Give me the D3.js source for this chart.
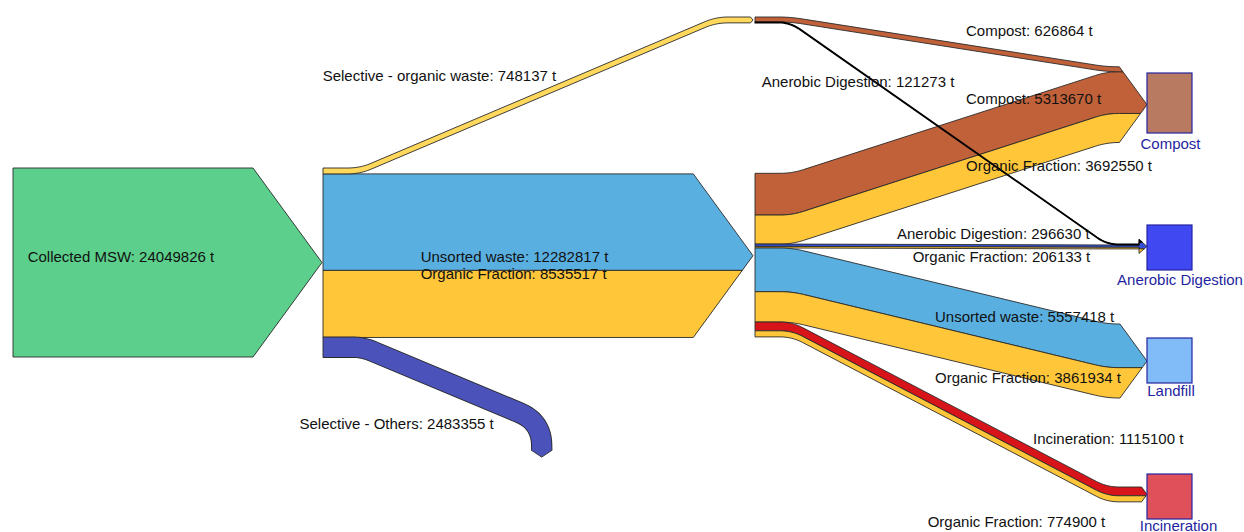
<!DOCTYPE html>
<html><head><meta charset="utf-8">
<script src="https://cdn.jsdelivr.net/npm/d3@7"></script>
<style>
body{margin:0;background:#fff}
svg{display:block}
text{font-family:"Liberation Sans",Arial,sans-serif;font-size:15px}
</style>
</head><body>
<svg id="chart" width="1244" height="532"></svg>
<script>
// ---------------- DATA ----------------
const collectedLabel = "Collected MSW";
const collectedTotal = 24049826;

const splitLabels = ["Selective - organic waste", "Unsorted waste", "Organic Fraction", "Selective - Others"];
const splitValues = [748137, 12282817, 8535517, 2483355];

const targetNames = ["Compost", "Anerobic Digestion", "Landfill", "Incineration"];

const mixedLabels  = ["Compost", "Organic Fraction", "Anerobic Digestion", "Organic Fraction", "Unsorted waste", "Organic Fraction", "Incineration", "Organic Fraction"];
const mixedValues  = [5313670, 3692550, 296630, 206133, 5557418, 3861934, 1115100, 774900];
const mixedTargets = ["Compost", "Compost", "Anerobic Digestion", "Anerobic Digestion", "Landfill", "Landfill", "Incineration", "Incineration"];
const mixedKinds   = ["compost", "organic", "digestion", "organic", "unsorted", "organic", "incineration", "organic"];

const selOrgLabels  = ["Compost", "Anerobic Digestion"];
const selOrgValues  = [626864, 121273];
const selOrgTargets = ["Compost", "Anerobic Digestion"];
const selOrgKinds   = ["compost", "digestionLine"];

// ---------------- STYLE / LAYOUT ----------------
const colors = {
  collected: "#5bcf8b", unsorted: "#5aafe1", organic: "#ffc63a", selOrganic: "#ffd85c",
  selOthers: "#4b53ba", compost: "#c1613a", digestion: "#3550d8", digestionLine: "#000000",
  incineration: "#d8141b"
};
const splitKinds = ["selOrganic", "unsorted", "organic", "selOthers"];
const nodeFill = {"Compost": "#b97a62", "Anerobic Digestion": "#4048f2", "Landfill": "#82bcf8", "Incineration": "#e0505a"};
const nodeBox = {"Compost": [73, 60], "Anerobic Digestion": [225, 45], "Landfill": [338, 45], "Incineration": [474, 45]};
const targetTop = {"Compost": 66.8, "Anerobic Digestion": 244, "Landfill": 324, "Incineration": 487};
const nodeLabelPos = {"Compost": [1170.5, 148.5], "Anerobic Digestion": [1180, 284.5], "Landfill": [1171, 396], "Incineration": [1178.5, 530.5]};

const X0 = 13, X1 = 323, X2 = 755, XT = 1147, NODE_W = 45;
const Y_N1 = 168, Y_N2 = 173.3, Y_N3 = 17;

const mixedLabelPos = [[966,104],[966,171],[897,239],[912.7,262],[935,322],[935,383],[1033,444],[927.7,527]];
const selOrgLabelPos = [[966,35.5],[761.7,87]];

// ---------------- HELPERS ----------------
const svg = d3.select("#chart");
const k = d3.scaleLinear().domain([0, collectedTotal]).range([0, 189]);
const line = d3.line();
const OUT = "#2a2a2a";

function roundPts(P, dmax) {
  const out = [P[0]];
  for (let i = 1; i < P.length - 1; i++) {
    const a = P[i-1], b = P[i], c = P[i+1];
    const l1 = Math.hypot(b[0]-a[0], b[1]-a[1]), l2 = Math.hypot(c[0]-b[0], c[1]-b[1]);
    if (l1 < 1e-6 || l2 < 1e-6) { out.push(b); continue; }
    const av1 = (i-1 === 0) ? l1 : l1/2, av2 = (i+1 === P.length-1) ? l2 : l2/2;
    const dm = Array.isArray(dmax) ? dmax[i-1] : dmax;
    const d = Math.min(dm, av1, av2);
    const s = [b[0]-(b[0]-a[0])/l1*d, b[1]-(b[1]-a[1])/l1*d];
    const e = [b[0]+(c[0]-b[0])/l2*d, b[1]+(c[1]-b[1])/l2*d];
    for (let j = 0; j <= 12; j++) {
      const t = j/12, u = 1-t;
      out.push([u*u*s[0]+2*u*t*b[0]+t*t*e[0], u*u*s[1]+2*u*t*b[1]+t*t*e[1]]);
    }
  }
  out.push(P[P.length-1]);
  return out;
}

function makeArrow(xt, T, H, minHalf) {
  let C = T + H/2, h = H/2, L = 0.73*h, scale = 1;
  if (minHalf && h < minHalf) { scale = minHalf / h; h = minHalf; L = 8; }
  return {xt, xa: xt - L, C, h, L, scale,
    xe(y) { return y <= C ? this.xa + L*(y-(C-h))/h : this.xa + L*((C+h)-y)/h; },
    map(y) { return C + (y - C)*scale; }};
}

function bandPoints(xs, ys, p1x, p2x, ye, w, ar, d) {
  const topP = (p1x == null) ? [[xs, ys],[ar.xa, ye]] : [[xs, ys],[p1x, ys],[p2x, ye],[ar.xa, ye]];
  const botP = topP.map(p => [p[0], p[1] + w]);
  const top = roundPts(topP, d), bot = roundPts(botP, d);
  const y1 = ar.map(ye), y2 = ar.map(ye + w);
  const head = [];
  if (Math.abs(y1 - ye) > 0.01) head.push([ar.xa, y1]);
  head.push([ar.xe(y1), y1]);
  if (y1 < ar.C && y2 > ar.C) head.push([ar.xt, ar.C]);
  head.push([ar.xe(y2), y2]);
  if (Math.abs(y2 - (ye+w)) > 0.01) head.push([ar.xa, y2]);
  return top.concat(head, bot.reverse());
}

function drawBand(pts, fill, sw) {
  svg.append("path").attr("d", line(pts) + "Z")
    .attr("fill", fill).attr("stroke", fill === "#000000" ? "#000" : OUT)
    .attr("stroke-width", sw || 0.9).attr("stroke-linejoin", "round");
}

function addText(str, x, y, opts = {}) {
  return svg.append("text").attr("x", x).attr("y", y).attr("fill", opts.fill || "#111")
    .attr("text-anchor", opts.anchor || "start").text(str);
}
const fmt = (l, v) => `${l}: ${v} t`;

// ---------------- LINKS ----------------
const hTot = k(collectedTotal);
const arMSW = makeArrow(X1 - 1, Y_N1, hTot);
drawBand(bandPoints(X0, Y_N1, null, null, Y_N1, hTot, arMSW, 0), colors.collected);

const n1Y = []; { let y = Y_N1; splitValues.forEach(v => { n1Y.push(y); y += k(v); }); }

const mainT = n1Y[1], mainH = k(splitValues[1]) + k(splitValues[2]);
const arMain = makeArrow(X2 - 2, mainT, mainH);
[1, 2].forEach(i => {
  drawBand(bandPoints(X1, n1Y[i], null, null, n1Y[i], k(splitValues[i]), arMain, 0), colors[splitKinds[i]]);
});

const wSO = k(splitValues[0]);
const arSO = makeArrow(X2 - 2, Y_N3, wSO);
arSO.xa = Math.min(arSO.xa, X2 - 4.5);
drawBand(bandPoints(X1, n1Y[0], 360, 716, Y_N3, wSO, arSO, 12), colors.selOrganic);

{
  const w = k(splitValues[3]), yc = n1Y[3] + w/2;
  const cx = 541.7, endY = 450;
  const pts = roundPts([[X1, yc],[363, yc],[cx, 422],[cx, endY]], [10, 24]);
  svg.append("path").attr("d", line(pts)).attr("fill", "none").attr("stroke", OUT).attr("stroke-width", w + 1.8);
  svg.append("path").attr("d", line(pts)).attr("fill", "none").attr("stroke", colors.selOthers).attr("stroke-width", w);
  const L = 0.73 * w/2;
  svg.append("path").attr("d", line([[cx-w/2, endY-0.6],[cx+w/2, endY-0.6],[cx+w/2+0.9, endY],[cx, endY+L],[cx-w/2-0.9, endY]]) + "Z")
    .attr("fill", colors.selOthers);
  svg.append("path").attr("d", line([[cx-w/2-0.9, endY],[cx, endY+L],[cx+w/2+0.9, endY]]))
    .attr("fill", "none").attr("stroke", OUT).attr("stroke-width", 0.9);
  svg.append("line").attr("x1", X1).attr("x2", X1).attr("y1", n1Y[3]-0.5).attr("y2", n1Y[3]+w+0.5)
    .attr("stroke", OUT).attr("stroke-width", 0.9);
}

const targetStack = {};
targetNames.forEach(t => targetStack[t] = []);
selOrgValues.forEach((v, i) => targetStack[selOrgTargets[i]].push({src: "selOrg", i, v}));
mixedValues.forEach((v, i) => targetStack[mixedTargets[i]].push({src: "mixed", i, v}));
const targetArrow = {}, endY = {selOrg: [], mixed: []};
targetNames.forEach(t => {
  let y = targetTop[t], tot = 0;
  targetStack[t].forEach(f => { endY[f.src][f.i] = y; y += k(f.v); tot += k(f.v); });
  targetArrow[t] = makeArrow(XT, targetTop[t], tot, 7);
});

{
  let y = Y_N2;
  mixedValues.forEach((v, i) => {
    const w = k(v);
    drawBand(bandPoints(X2, y, 792, 1107, endY.mixed[i], w, targetArrow[mixedTargets[i]], 12), colors[mixedKinds[i]]);
    y += w;
  });
}
{
  let y = Y_N3;
  selOrgValues.forEach((v, i) => {
    const w = k(v);
    drawBand(bandPoints(X2, y, 790, 1107, endY.selOrg[i], w, targetArrow[selOrgTargets[i]], 12),
      colors[selOrgKinds[i]], selOrgKinds[i] === "digestionLine" ? 1.1 : 0.9);
    y += w;
  });
}

// ---------------- NODES ----------------
targetNames.forEach(t => {
  const [y, h] = nodeBox[t];
  svg.append("rect").attr("x", XT).attr("y", y).attr("width", NODE_W).attr("height", h)
    .attr("fill", nodeFill[t]).attr("stroke", "#2424a0").attr("stroke-width", 1.2);
  const [lx, ly] = nodeLabelPos[t];
  addText(t, lx, ly, {fill: "#1f1fa0", anchor: "middle"});
});

// ---------------- LABELS ----------------
addText(fmt(collectedLabel, collectedTotal), 27.7, 262);
addText(fmt(splitLabels[0], splitValues[0]), 322.7, 80.5);
addText(fmt(splitLabels[1], splitValues[1]), 420.7, 262);
addText(fmt(splitLabels[2], splitValues[2]), 420.7, 279);
addText(fmt(splitLabels[3], splitValues[3]), 299.5, 429);
mixedLabels.forEach((l, i) => addText(fmt(l, mixedValues[i]), mixedLabelPos[i][0], mixedLabelPos[i][1]));
selOrgLabels.forEach((l, i) => addText(fmt(l, selOrgValues[i]), selOrgLabelPos[i][0], selOrgLabelPos[i][1]));
</script>
</body></html>
